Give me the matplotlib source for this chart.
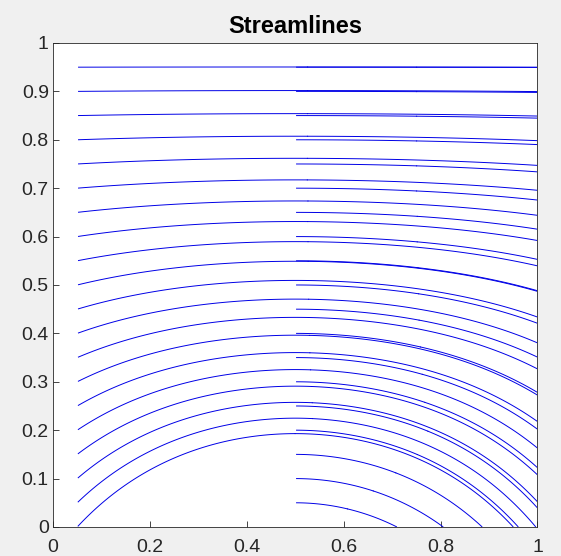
import numpy as np
import matplotlib.pyplot as plt

plt.rcParams['font.family'] = ['Liberation Sans', 'DejaVu Sans']

# start points of the streamlines
start_x = [0.05, 0.5, 0.95]
start_y_left = [0.0, 0.05, 0.1, 0.15, 0.2, 0.25, 0.3, 0.35, 0.4, 0.45,
                0.5, 0.55, 0.6, 0.65, 0.7, 0.75, 0.8, 0.85, 0.9, 0.95]
start_y_other = [0.05, 0.1, 0.15, 0.2, 0.25, 0.3, 0.35, 0.4, 0.45,
                 0.5, 0.55, 0.6, 0.65, 0.7, 0.75, 0.8, 0.85, 0.9, 0.95]

xticks = [0, 0.2, 0.4, 0.6, 0.8, 1]
xtick_labels = ['0', '0.2', '0.4', '0.6', '0.8', '1']
yticks = [0, 0.1, 0.2, 0.3, 0.4, 0.5, 0.6, 0.7, 0.8, 0.9, 1]
ytick_labels = ['0', '0.1', '0.2', '0.3', '0.4', '0.5', '0.6', '0.7', '0.8', '0.9', '1']

# velocity field (estimated from the shape of the lines)
k = 2.4
n = 2.15
gx = np.linspace(0, 1, 201)
gy = np.linspace(0, 1, 201)
X, Y = np.meshgrid(gx, gy)
U = np.ones_like(X)
V = -k * (X - 0.5) * (1 - Y) ** n

pts = [[start_x[0], y] for y in start_y_left]
pts += [[start_x[1], y] for y in start_y_other]
pts += [[start_x[2], y] for y in start_y_other]
pts = np.array(pts)

fig = plt.figure(figsize=(5.61, 5.56), dpi=100, facecolor='#f0f0f0')
ax = fig.add_axes([0.0945, 0.0522, 0.8636, 0.8705])
ax.set_facecolor('white')

# high density -> small first step (forward-only drops the start point)
ax.streamplot(X, Y, U, V, start_points=pts, integration_direction='forward',
              broken_streamlines=False, color='#0000e6', linewidth=0.7,
              arrowstyle='-', maxlength=10, density=20)

ax.set_xlim(0, 1)
ax.set_ylim(0, 1)
ax.set_xticks(xticks)
ax.set_xticklabels(xtick_labels)
ax.set_yticks(yticks)
ax.set_yticklabels(ytick_labels)
ax.tick_params(direction='in', length=4, width=0.6, colors='#262626',
               labelsize=14)
ax.tick_params(axis='x', pad=9)
ax.tick_params(axis='y', pad=3)
for s in ax.spines.values():
    s.set_color('#262626')
    s.set_linewidth(0.6)
ax.set_title('Streamlines', fontsize=17, fontweight='bold', pad=7)

fig.savefig('out.png', dpi=100, facecolor=fig.get_facecolor())
